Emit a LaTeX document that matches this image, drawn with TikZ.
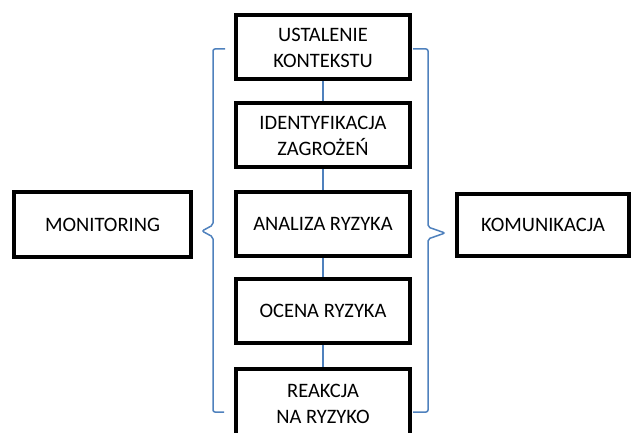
\documentclass[tikz,border=0pt]{standalone}
\usepackage{fontspec}
\setmainfont{Carlito}
\usetikzlibrary{positioning}
\definecolor{linkblue}{RGB}{79,129,189}

\begin{document}
\begin{tikzpicture}[x=1pt,y=-1pt,
    box/.style={draw,line width=4pt,fill=white,align=center,inner sep=2pt,
      minimum width=174pt,minimum height=64pt,font=\fontsize{20.5}{26}\selectfont},
    link/.style={linkblue,line width=1.5pt},
    bracket/.style={linkblue,line width=1.5pt,rounded corners=2pt}]
  \useasboundingbox (0,0) rectangle (633,433);
  % main chain
  \node[box] (ctx)   at (323,47.5)  {USTALENIE\\KONTEKSTU};
  \node[box] (ident) at (323,135.5) {IDENTYFIKACJA\\ZAGROŻEŃ};
  \node[box] (anal)  at (323,224)   {ANALIZA RYZYKA};
  \node[box] (ocena) at (323,311)   {OCENA RYZYKA};
  \node[box,minimum height=70pt] (reakc) at (323,404) {REAKCJA\\NA RYZYKO};
  \draw[link] (ctx) -- (ident);
  \draw[link] (ident) -- (anal);
  \draw[link] (anal) -- (ocena);
  \draw[link] (ocena) -- (reakc);
  % side boxes
  \node[box,minimum width=177pt,minimum height=65pt] (mon) at (102.5,224.5) {MONITORING};
  \node[box,minimum width=172pt,minimum height=62pt] (kom) at (543,225) {KOMUNIKACJA};
  % brackets
  \draw[bracket] (225,49) -- (213,49) -- (213,225) -- (202,231) -- (213,237)
    -- (213,412) -- (224,412);
  \draw[bracket] (413,49) -- (428,49) -- (428,227) -- (445,233) -- (428,239)
    -- (428,412) -- (413,412);
\end{tikzpicture}
\end{document}
